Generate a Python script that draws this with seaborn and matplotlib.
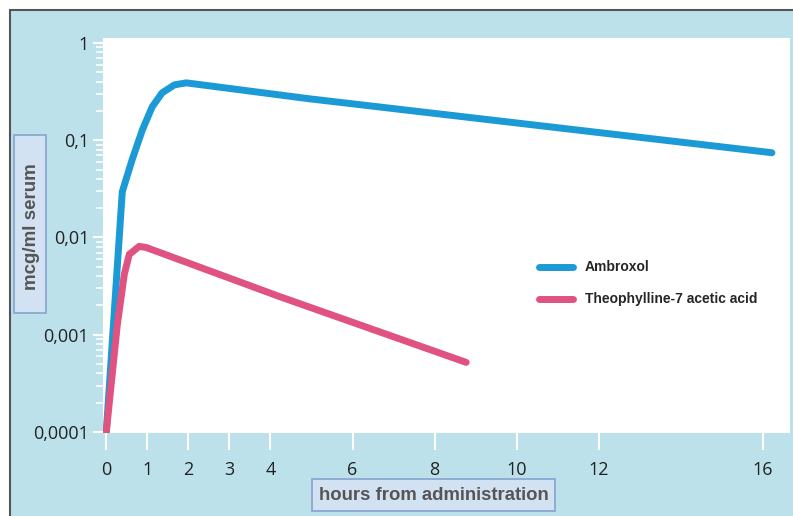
import pandas as pd
import matplotlib.pyplot as plt
import seaborn as sns
from matplotlib.patches import Rectangle
from matplotlib.ticker import LogLocator, FixedLocator, NullFormatter

# values (hours, mcg/ml)
ambroxol_hours = [0.0, 0.39, 0.63, 0.88, 1.12, 1.36, 1.66, 1.95, 4.94, 16.22]
ambroxol_conc = [0.0001, 0.0296, 0.063, 0.128, 0.221, 0.307, 0.371, 0.389, 0.267, 0.0744]

theo_hours = [0.0, 0.27, 0.44, 0.56, 0.80, 0.97, 4.21, 8.77]
theo_conc = [0.0001, 0.00128, 0.0042, 0.0067, 0.0081, 0.0079, 0.00248, 0.00052]

series_names = ["Ambroxol", "Theophylline-7 acetic acid"]
x_ticks = [0, 1, 2, 3, 4, 6, 8, 10, 12, 16]
y_ticks = [0.0001, 0.001, 0.01, 0.1, 1]
y_tick_labels = ["0,0001", "0,001", "0,01", "0,1", "1"]

df = pd.concat([
    pd.DataFrame({"hours": ambroxol_hours, "conc": ambroxol_conc, "drug": series_names[0]}),
    pd.DataFrame({"hours": theo_hours, "conc": theo_conc, "drug": series_names[1]}),
])

sns.set_theme(style="ticks")

W, H = 793, 516
fig = plt.figure(figsize=(7.93, 5.16), dpi=100, facecolor="white")
# blue card behind the chart, with the scan's grey edge at top/left
card = Rectangle((10 / W, -0.05), 1.1, (506 / H) + 0.05,
                 transform=fig.transFigure, facecolor="#bde1ea",
                 edgecolor="#555555", linewidth=1.5, zorder=-10)
fig.add_artist(card)


# light boxes behind the axis titles (given in pixels from top-left)
def label_box(x0, y0, x1, y1):
    r = Rectangle((x0 / W, 1 - y1 / H), (x1 - x0) / W, (y1 - y0) / H,
                  transform=fig.transFigure, facecolor="#d3e2f3",
                  edgecolor="#86a2cf", linewidth=1.2, zorder=-5)
    fig.add_artist(r)


label_box(14, 135, 46, 313)
label_box(312, 479, 555, 511)

ax = fig.add_axes([103 / W, 83 / H, 687 / W, 395 / H])
ax.set_facecolor("white")

sns.lineplot(data=df, x="hours", y="conc", hue="drug", hue_order=series_names,
             palette=["#1b9ad6", "#e0527f"], linewidth=5, sort=False,
             estimator=None, ax=ax)
for line in ax.lines:
    line.set_solid_joinstyle("round")

ax.set_yscale("log")
ax.set_xlim(-0.08, 16.66)
ax.set_ylim(0.0000977, 1.125)

ax.xaxis.set_major_locator(FixedLocator(x_ticks))
ax.set_xticklabels([str(t) for t in x_ticks])
ax.set_yticks(y_ticks)
ax.set_yticklabels(y_tick_labels)
ax.yaxis.set_minor_locator(LogLocator(base=10, subs=range(2, 10)))
ax.yaxis.set_minor_formatter(NullFormatter())

for s in ax.spines.values():
    s.set_visible(False)

ax.tick_params(axis="x", which="major", direction="out", length=12, width=1.5,
               color="white", pad=8, labelsize=13, labelcolor="#222222")
ax.tick_params(axis="y", which="major", direction="out", length=7, width=1.5,
               color="white", pad=3, labelsize=13, labelcolor="#222222")
ax.tick_params(axis="y", which="minor", direction="out", length=5, width=1.2,
               color="white")
for lab in ax.get_xticklabels() + ax.get_yticklabels():
    lab.set_fontfamily("Open Sans")

ax.set_xlabel("hours from administration", fontsize=13.3, fontweight="bold",
              color="#555555", family="Liberation Sans")
ax.xaxis.set_label_coords((433.5 - 103) / 687, (433 - 495) / 395)
ax.xaxis.label.set_va("center")
ax.set_ylabel("mcg/ml serum", fontsize=13.5, fontweight="bold",
              color="#555555", family="Liberation Sans")
ax.yaxis.set_label_coords((31 - 103) / 687, (433 - 227) / 395)
ax.yaxis.label.set_va("center")

leg = ax.legend(loc="upper left", bbox_to_anchor=(0.634, 0.437), frameon=False,
                borderpad=0, borderaxespad=0, handlelength=2.5, handletextpad=0.85,
                labelspacing=1.3, prop={"family": "Liberation Sans", "weight": "bold", "size": 10})
for h in leg.get_lines():
    h.set_linewidth(5)

fig.savefig("out.png", dpi=100, facecolor=fig.get_facecolor())
